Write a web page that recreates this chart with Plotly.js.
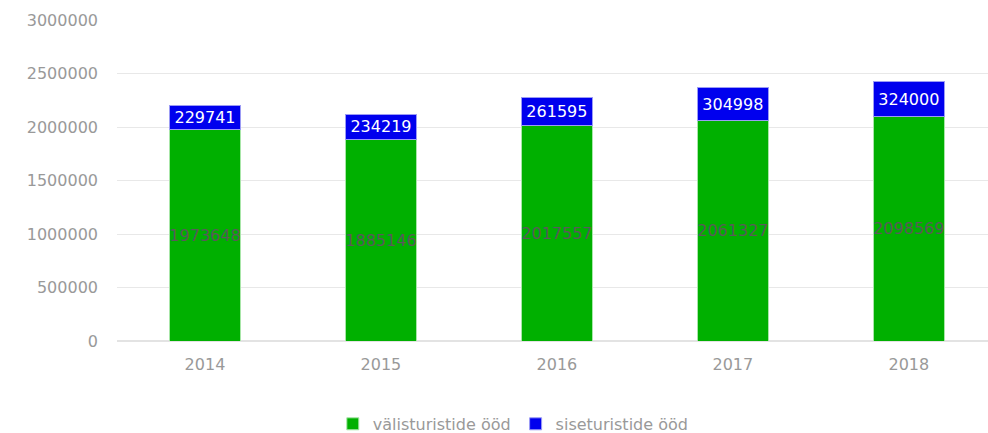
<!DOCTYPE html>
<html>
<head>
<meta charset="utf-8">
<script src="https://cdn.plot.ly/plotly-3.0.1.min.js"></script>
<style>html,body{margin:0;padding:0;background:#fff}#chart{width:988px;height:433px}</style>
</head>
<body>
<div id="chart"></div>
<script>
var years = ["2014", "2015", "2016", "2017", "2018"];
var valisturistid = [1973648, 1885146, 2017557, 2061327, 2098569];
var siseturistid = [229741, 234219, 261595, 304998, 324000];
var seriesNames = ["välisturistide ööd", "siseturistide ööd"];

var fontFam = "'DejaVu Sans', 'Open Sans', sans-serif";

var traces = [
  {
    type: "bar", name: seriesNames[0], x: years, y: valisturistid,
    text: valisturistid.map(String), textposition: "inside", insidetextanchor: "middle",
    textangle: 0, constraintext: "none",
    textfont: {family: fontFam, size: 16, color: "#5a5a5a"},
    marker: {color: "#00b000", line: {color: "#a8e6a8", width: 1}},
    width: 0.4, hoverinfo: "x+y+name"
  },
  {
    type: "bar", name: seriesNames[1], x: years, y: siseturistid,
    text: siseturistid.map(String), textposition: "inside", insidetextanchor: "middle",
    textangle: 0, constraintext: "none",
    textfont: {family: fontFam, size: 16, color: "#ffffff"},
    marker: {color: "#0000ee", line: {color: "#9c9cf5", width: 1}},
    width: 0.4, hoverinfo: "x+y+name"
  }
];

var layout = {
  width: 988, height: 433,
  margin: {l: 117, r: 0, t: 20, b: 92, autoexpand: false},
  barmode: "stack",
  paper_bgcolor: "#fff", plot_bgcolor: "#fff",
  font: {family: fontFam, color: "#999999", size: 15},
  xaxis: {
    type: "category", range: [-0.5, 4.45], showgrid: false, automargin: false,
    showline: false, ticks: "", ticklabelstandoff: 12,
    tickfont: {size: 16, color: "#999999"},
    fixedrange: true
  },
  yaxis: {
    range: [0, 3000000], dtick: 500000, tickformat: "d", automargin: false,
    gridcolor: "#e8e8e8", gridwidth: 1,
    zeroline: true, zerolinecolor: "#e3e3e3", zerolinewidth: 2,
    showline: false, ticks: "", ticklabelstandoff: 18,
    tickfont: {size: 16, color: "#999999"}, fixedrange: true
  },
  showlegend: true,
  legend: {
    orientation: "h", x: 0.455, xanchor: "center",
    yref: "container", y: 0.021, yanchor: "middle",
    font: {size: 16, color: "#999999"}, traceorder: "normal", itemclick: false
  }
};

Plotly.newPlot("chart", traces, layout, {displayModeBar: false, staticPlot: true});
</script>
</body>
</html>
